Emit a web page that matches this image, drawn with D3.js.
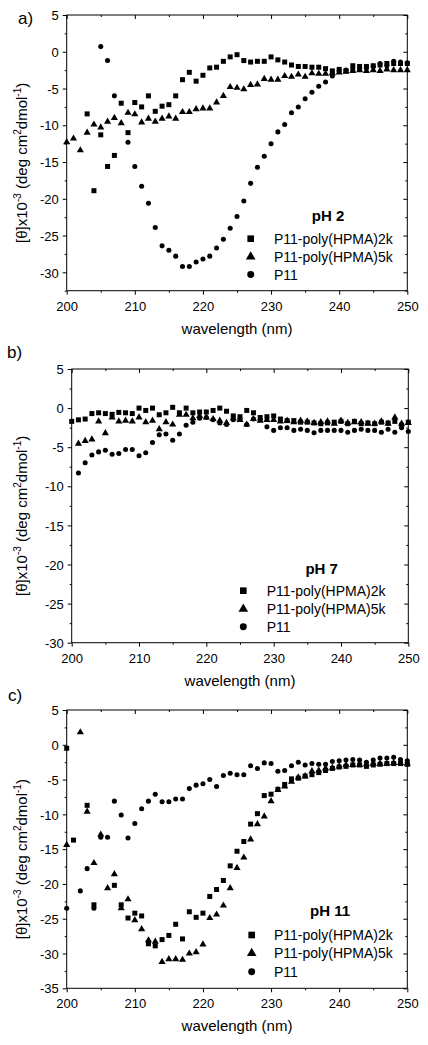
<!DOCTYPE html>
<html><head><meta charset="utf-8">
<script src="https://cdn.jsdelivr.net/npm/d3@7"></script>
<style>
body{margin:0;background:#fff}
svg{display:block}
text{font-family:"Liberation Sans",Arial,sans-serif;fill:#000}
</style>
</head><body>
<script>
// ---------- DATA ----------
const wavelengths = [200,201,202,203,204,205,206,207,208,209,210,211,212,213,214,215,216,217,218,219,220,
  221,222,223,224,225,226,227,228,229,230,231,232,233,234,235,236,237,238,239,240,
  241,242,243,244,245,246,247,248,249,250];

const seriesNames = ["P11-poly(HPMA)2k","P11-poly(HPMA)5k","P11"];
const panelTitles = ["pH 2","pH 7","pH 11"];
const panelLabels = ["a)","b)","c)"];
const xTickValues = [200,210,220,230,240,250];
const yTicksA = [5,0,-5,-10,-15,-20,-25,-30];
const yTicksB = [5,0,-5,-10,-15,-20,-25,-30];
const yTicksC = [5,0,-5,-10,-15,-20,-25,-30,-35];

// pH 2
const pH2_2k = [null,null,null,-8.45,-18.9,-11.3,-15.6,-14.1,-7.0,-11.0,-6.9,-7.5,-6.0,-8.1,-7.4,-7.2,-6.0,-3.8,-2.8,-4.0,-3.2,
  -2.2,-2.1,-1.3,-0.7,-0.4,-1.2,-1.4,-1.3,-1.3,-0.7,-1.1,-1.4,-1.8,-2.0,-2.0,-2.1,-2.1,-2.3,-2.6,-2.4,
  -2.6,-1.9,-2.0,-2.0,-1.9,-1.8,-1.6,-1.6,-1.6,-1.6];
const pH2_5k = [-12.3,-11.8,-13.4,-11.0,-9.9,-10.3,-9.5,-9.0,-9.7,-8.3,-8.5,-9.6,-9.1,-9.5,-9.1,-8.8,-9.1,-8.2,-8.2,-7.8,-7.7,
  -7.7,-6.9,-6.0,-4.8,-4.9,-5.1,-4.5,-4.45,-3.7,-3.8,-3.8,-3.3,-3.4,-3.1,-3.4,-2.9,-3.0,-3.0,-2.9,-2.8,
  -2.7,-2.6,-2.5,-2.6,-2.5,-2.6,-2.4,-2.5,-2.5,-2.5];
const pH2_P11 = [null,null,null,null,null,0.7,-1.2,-6.0,null,-12.3,-15.6,-18.3,-20.6,-23.9,-26.4,-27.0,-27.8,-29.2,-29.2,-28.6,-28.2,
  -27.8,-26.7,-25.5,-24.0,-22.4,-20.3,-17.9,-15.7,-14.2,-12.5,-10.9,-9.9,-8.3,-7.5,-6.4,-5.5,-4.7,-4.1,-3.3,-2.6,
  -2.5,-2.4,-2.3,-2.2,-2.0,-1.6,-1.9,-1.3,-1.4,-1.5];

// pH 7
const pH7_2k = [-1.7,-1.5,-1.4,-0.7,-0.6,-0.7,-0.8,-0.55,-0.6,-0.7,0.0,-0.3,0.0,-0.85,-0.6,0.1,-0.6,0.0,-0.6,-0.5,-0.5,
  -0.3,0.0,-0.4,-1.0,-1.1,-0.3,-0.6,-1.2,-1.1,-1.0,-1.4,-1.6,-1.6,-1.8,-1.8,-1.9,-2.0,-1.9,-1.8,-1.7,
  -2.0,-1.7,-2.0,-1.9,-2.0,-1.8,-1.9,-1.7,-2.2,-1.8];
const pH7_5k = [null,-4.55,-4.2,-4.0,-1.7,-3.2,-1.2,-1.7,-1.6,-1.7,-1.2,-1.8,-1.6,-2.7,-1.8,-2.1,-0.85,-0.85,-1.3,-1.0,-1.2,
  -1.4,-1.6,-1.9,-1.3,-1.5,-2.1,-1.4,-1.6,-1.5,-1.5,-1.7,-1.6,-1.8,-1.6,-1.7,-1.9,-1.8,-1.7,-2.0,-1.6,
  -1.9,-1.8,-1.8,-2.0,-2.0,-1.7,-2.0,-1.2,-2.0,-1.9];
const pH7_P11 = [null,-8.3,-7.0,-6.0,-5.6,-5.4,-5.9,-5.8,-5.3,-5.3,-6.1,-5.7,-4.4,-3.4,-3.3,-4.1,-3.3,-2.2,-1.8,-1.3,-1.2,
  -1.5,-1.9,-2.1,-1.5,-1.4,-2.1,-1.4,-1.5,-2.4,-2.85,-2.5,-2.5,-2.85,-2.7,-2.85,-3.15,-2.85,-2.85,-2.85,-2.85,
  -3.1,-2.85,-2.7,-2.85,-2.85,-3.1,-2.7,-3.1,-2.5,-3.0];

// pH 11
const pH11_2k = [-0.5,-13.7,null,-8.7,-23.0,null,null,-20.2,-23.0,-24.9,-24.2,-24.6,-28.6,-28.9,-28.0,-27.4,-25.8,-27.9,-24.0,-24.8,-24.2,
  -21.8,-20.8,-19.5,-17.4,-15.3,-13.9,-11.4,-9.9,-7.3,-7.1,-6.4,-5.7,-4.9,-4.8,-4.5,-4.3,-4.0,-3.7,-3.4,-3.2,
  -3.1,-2.9,-2.9,-3.1,-2.9,-2.8,-2.7,-2.7,-2.7,-2.8];
const pH11_5k = [-14.4,null,1.8,-9.6,-17.0,-12.9,-20.6,-18.6,-23.5,-22.2,-25.2,-26.5,-28.1,-28.3,-31.2,-30.8,-30.8,-30.9,-30.0,-29.8,-28.7,
  -24.9,-24.4,-23.1,-20.6,-17.7,-16.2,-13.6,-11.4,-10.3,-8.1,-6.5,-6.0,-5.3,-4.7,-4.5,-3.8,-3.7,-3.4,-3.3,-3.1,
  -2.9,-2.9,-2.9,-2.8,-2.7,-2.7,-2.7,-2.6,-2.6,-2.7];
const pH11_P11 = [-23.5,null,-21.0,-17.8,-23.5,-13.3,-13.3,-8.1,-10.1,-13.4,-11.3,-9.2,-8.1,-7.1,-8.2,-8.2,-7.8,-7.8,-6.3,-5.8,-5.6,
  -5.0,-6.0,-4.4,-4.1,-4.3,-4.3,-3.0,-3.4,-2.6,-2.7,-3.8,-3.7,-3.0,-2.5,-2.9,-2.7,-2.8,-2.8,-2.4,-2.3,
  -2.2,-2.1,-2.2,-2.5,-2.2,-1.9,-1.9,-1.8,-2.1,-2.3];

// ---------- LAYOUT ----------
const W = 428, H = 1045;
const svg = d3.select("body").append("svg").attr("width", W).attr("height", H);

const symbolTypes = [d3.symbolSquare, d3.symbolTriangle, d3.symbolCircle];
const symbolSizes = [25, 22, 20];
const legendSizes = [44, 40, 38];

const panels = [
  {label: panelLabels[0], lx: 18, ly: 24, left: 66.7, right: 407.3, top: 15, bottom: 290.7,
   yDomain: [-32.5, 5], yTicks: yTicksA, data: [pH2_2k, pH2_5k, pH2_P11], title: panelTitles[0],
   leg: {tx: 328, ty: 221, mx: 250.7, textX: 274, rows: [238.7, 256.7, 274.5]}},
  {label: panelLabels[1], lx: 7, ly: 358, left: 71.7, right: 408.3, top: 369, bottom: 642.7,
   yDomain: [-30, 5], yTicks: yTicksB, data: [pH7_2k, pH7_5k, pH7_P11], title: panelTitles[1],
   leg: {tx: 321.7, ty: 574, mx: 243.3, textX: 266.7, rows: [590.7, 609, 626.7]}},
  {label: panelLabels[2], lx: 8, ly: 701, left: 66.7, right: 407.3, top: 710, bottom: 988.3,
   yDomain: [-35, 5], yTicks: yTicksC, data: [pH11_2k, pH11_5k, pH11_P11], title: panelTitles[2],
   leg: {tx: 330, ty: 916, mx: 251.7, textX: 274, rows: [935, 953.3, 971.7]}}
];

const fmt = d => String(d).replace("\u2212", "-");

panels.forEach(p => {
  const g = svg.append("g");
  const x = d3.scaleLinear().domain([200, 250]).range([p.left, p.right]);
  const y = d3.scaleLinear().domain(p.yDomain).range([p.bottom, p.top]);

  const xMinor = [205, 215, 225, 235, 245];
  const yMinor = p.yTicks.map(v => v - 2.5).filter(v => v >= p.yDomain[0]);

  const styleAxis = sel => {
    sel.select(".domain").remove();
    sel.selectAll("line").attr("stroke", "#000").attr("stroke-width", 1);
    sel.selectAll("text").attr("font-size", 13).attr("fill", "#000")
      .attr("font-family", '"Liberation Sans", Arial, sans-serif');
  };

  // bottom axis
  g.append("g").attr("transform", `translate(0,${p.bottom})`)
    .call(d3.axisBottom(x).tickValues(xTickValues).tickSize(4).tickPadding(4).tickFormat(d => d))
    .call(styleAxis)
    .call(s => s.selectAll("text").attr("dy", null).attr("y", 20));
  g.append("g").attr("transform", `translate(0,${p.bottom})`)
    .call(d3.axisBottom(x).tickValues(xMinor).tickSize(2).tickFormat(""))
    .call(styleAxis);
  // top axis (inward)
  g.append("g").attr("transform", `translate(0,${p.top})`)
    .call(d3.axisTop(x).tickValues(xTickValues).tickSize(-4).tickFormat(""))
    .call(styleAxis);
  g.append("g").attr("transform", `translate(0,${p.top})`)
    .call(d3.axisTop(x).tickValues(xMinor).tickSize(-2).tickFormat(""))
    .call(styleAxis);
  // left axis
  g.append("g").attr("transform", `translate(${p.left},0)`)
    .call(d3.axisLeft(y).tickValues(p.yTicks).tickSize(4).tickPadding(4).tickFormat(d => fmt(d)))
    .call(styleAxis)
    .call(s => s.selectAll("text").attr("dy", "0.36em"));
  g.append("g").attr("transform", `translate(${p.left},0)`)
    .call(d3.axisLeft(y).tickValues(yMinor).tickSize(2).tickFormat(""))
    .call(styleAxis);
  // right axis (inward)
  g.append("g").attr("transform", `translate(${p.right},0)`)
    .call(d3.axisRight(y).tickValues(p.yTicks).tickSize(-4).tickFormat(""))
    .call(styleAxis);
  g.append("g").attr("transform", `translate(${p.right},0)`)
    .call(d3.axisRight(y).tickValues(yMinor).tickSize(-2).tickFormat(""))
    .call(styleAxis);

  // frame
  g.append("rect").attr("x", p.left).attr("y", p.top)
    .attr("width", p.right - p.left).attr("height", p.bottom - p.top)
    .attr("fill", "none").attr("stroke", "#000").attr("stroke-width", 1);

  // data
  p.data.forEach((vals, si) => {
    const pts = wavelengths.map((w, i) => ({w, v: vals[i]})).filter(d => d.v !== null);
    g.append("g").selectAll("path").data(pts).join("path")
      .attr("d", d3.symbol().type(symbolTypes[si]).size(symbolSizes[si]))
      .attr("transform", d => `translate(${x(d.w)},${y(d.v)})`)
      .attr("fill", "#000");
  });

  // legend
  g.append("text").attr("x", p.leg.tx).attr("y", p.leg.ty).attr("text-anchor", "middle")
    .attr("font-size", 15).attr("font-weight", "bold").text(p.title);
  seriesNames.forEach((name, si) => {
    g.append("path")
      .attr("d", d3.symbol().type(symbolTypes[si]).size(legendSizes[si]))
      .attr("transform", `translate(${p.leg.mx},${p.leg.rows[si]})`)
      .attr("fill", "#000");
    g.append("text").attr("x", p.leg.textX).attr("y", p.leg.rows[si] + 5)
      .attr("font-size", 14).text(name);
  });

  // axis titles
  g.append("text").attr("x", (p.left + p.right) / 2).attr("y", p.bottom + 43)
    .attr("text-anchor", "middle").attr("font-size", 15).text("wavelength (nm)");

  const cy = (p.top + p.bottom) / 2 + 10;
  const yt = g.append("text").attr("transform", `translate(27,${cy}) rotate(-90)`)
    .attr("text-anchor", "middle").attr("font-size", 15);
  yt.append("tspan").text("[\u03B8]x10");
  yt.append("tspan").attr("font-size", 10).attr("dy", -6).text("-3");
  yt.append("tspan").attr("dy", 6).text(" (deg cm");
  yt.append("tspan").attr("font-size", 10).attr("dy", -6).text("2");
  yt.append("tspan").attr("dy", 6).text("dmol");
  yt.append("tspan").attr("font-size", 10).attr("dy", -6).text("-1");
  yt.append("tspan").attr("dy", 6).text(")");

  // panel label
  g.append("text").attr("x", p.lx).attr("y", p.ly)
    .attr("font-family", '"Liberation Serif", "Times New Roman", serif')
    .attr("font-size", 17).text(p.label);
});
</script>
</body></html>
